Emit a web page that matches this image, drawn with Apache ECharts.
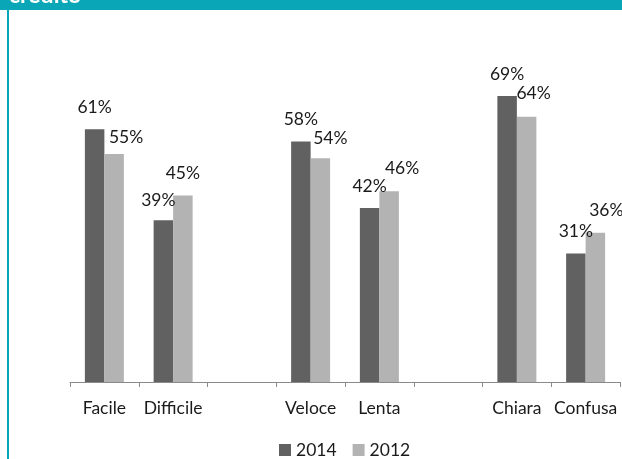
<!DOCTYPE html>
<html>
<head>
<meta charset="utf-8">
<script src="https://cdn.jsdelivr.net/npm/echarts@6/dist/echarts.min.js"></script>
<style>
  html, body { margin: 0; padding: 0; background: #ffffff; }
  #chart { width: 622px; height: 459px; }
</style>
</head>
<body>
<div id="chart"></div>
<script>
// Categories (blank entries separate the three pairs)
const categories = ['Facile', 'Difficile', '', 'Veloce', 'Lenta', '', 'Chiara', 'Confusa'];
// Percent values per year
const values2014 = [61, 39, null, 58, 42, null, 69, 31];
const values2012 = [55, 45, null, 54, 46, null, 64, 36];
const seriesNames = ['2014', '2012'];

// Small horizontal / vertical nudges for value labels
const labelDx2014 = [0, -5, 0, 0, 0, 0, 0, 0];
const labelDy2014 = [0, 2, 0, 0, 0, 0, 0, 0];
const labelDx2012 = [12, 0, 0, 10, 13, 0, 7, 11];
const labelDy2012 = [5, 0, 2, 2, -1, 0, -1, 0];

const TEAL = '#08a6b6';
const FONT = 'Lato, "Open Sans", sans-serif';

function toItems(vals, dx, dy) {
  return vals.map((v, i) => v == null ? '-' : ({
    value: v,
    label: { offset: [dx[i], dy[i]] }
  }));
}

const chart = echarts.init(document.getElementById('chart'), null, { renderer: 'canvas' });

const labelStyle = {
  show: true,
  position: 'top',
  distance: 13,
  formatter: p => p.value + '%',
  fontFamily: FONT,
  fontSize: 17.5,
  color: '#1a1a1a'
};

chart.setOption({
  backgroundColor: '#ffffff',
  animation: false,
  graphic: [
    { type: 'rect', left: 0, top: 0, shape: { width: 622, height: 10 }, style: { fill: TEAL } },
    { type: 'rect', left: 7, top: 10, shape: { width: 2, height: 449 }, style: { fill: TEAL } },
    { type: 'text', x: 9, y: 7, z: 10,
      style: { text: 'credito', fill: '#ffffff', fontFamily: FONT, fontWeight: 'bold', fontSize: 23, verticalAlign: 'bottom', align: 'left' } }
  ],
  grid: { left: 70, right: 2, top: 50.4, bottom: 77 },
  legend: {
    data: seriesNames,
    left: 274,
    top: 436,
    icon: 'rect',
    itemWidth: 12,
    itemHeight: 12,
    itemGap: 16,
    textStyle: { fontFamily: FONT, fontSize: 17.5, color: '#1a1a1a' }
  },
  xAxis: {
    type: 'category',
    data: categories,
    axisLine: { lineStyle: { color: '#8a8a8a', width: 1 } },
    axisTick: { show: true, length: 5, interval: 0, lineStyle: { color: '#8a8a8a' } },
    axisLabel: { interval: 0, margin: 17, fontFamily: FONT, fontSize: 17.5, color: '#1a1a1a' }
  },
  yAxis: {
    type: 'value', min: 0, max: 80, show: false, splitLine: { show: false }
  },
  series: [
    {
      name: seriesNames[0], type: 'bar', barWidth: 19.5, barGap: '0%',
      itemStyle: { color: '#616161' },
      label: labelStyle,
      data: toItems(values2014, labelDx2014, labelDy2014)
    },
    {
      name: seriesNames[1], type: 'bar', barWidth: 19.5, barGap: '0%',
      itemStyle: { color: '#b3b3b3' },
      label: labelStyle,
      data: toItems(values2012, labelDx2012, labelDy2012)
    }
  ]
});
</script>
</body>
</html>
